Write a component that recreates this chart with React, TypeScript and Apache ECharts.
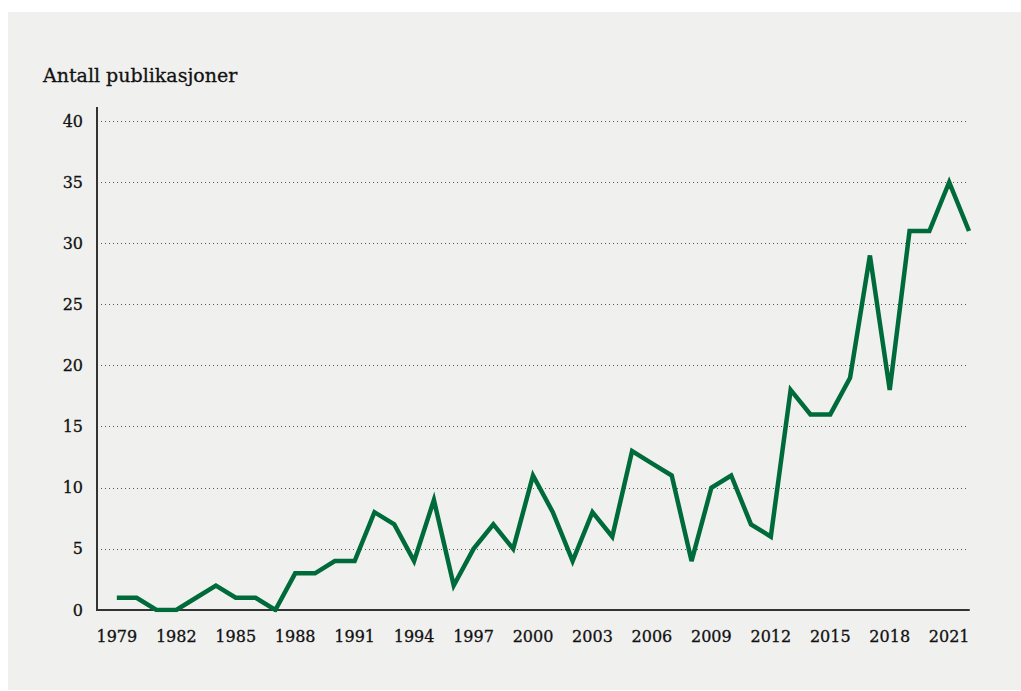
import React, { useEffect, useRef } from "react";
import * as echarts from "echarts";

const years: number[] = [];
for (let y = 1979; y <= 2022; y++) years.push(y);

const publications = [
  1, 1, 0, 0, 1, 2, 1, 1, 0, 3, 3, 4, 4, 8, 7, 4, 9, 2, 5, 7, 5, 11, 8, 4, 8, 6,
  13, 12, 11, 4, 10, 11, 7, 6, 18, 16, 16, 19, 29, 18, 31, 31, 35, 31,
];

const xLabelYears = [1979, 1982, 1985, 1988, 1991, 1994, 1997, 2000, 2003, 2006, 2009, 2012, 2015, 2018, 2021];
const yTicks = [0, 5, 10, 15, 20, 25, 30, 35, 40];

export default function App() {
  const ref = useRef<HTMLDivElement>(null);
  useEffect(() => {
    if (!ref.current) return;
    const chart = echarts.init(ref.current, null, { renderer: "svg" });
    const font = "'DejaVu Serif', 'Liberation Serif', serif";
    chart.setOption({
      animation: false,
      backgroundColor: "#ffffff",
      graphic: [
        {
          type: "rect",
          z: -10,
          shape: { x: 8, y: 12, width: 1013, height: 678 },
          style: { fill: "#f0f0ef" },
          silent: true,
        },
        {
          type: "text",
          x: 43,
          y: 75,
          style: {
            text: "Antall publikasjoner",
            font: `19px ${font}`,
            fill: "#111111",
            verticalAlign: "middle",
            stroke: "#111111",
            lineWidth: 0.3,
          },
        },
        {
          type: "line",
          shape: { x1: 97, y1: 107, x2: 97, y2: 611 },
          style: { stroke: "#333333", lineWidth: 2 },
          z: 5,
        },
      ],
      grid: { left: 97, right: 52, top: 121, bottom: 81, containLabel: false },
      xAxis: {
        type: "value",
        min: 1978,
        max: 2022,
        interval: 1,
        axisLine: { show: true, lineStyle: { color: "#333333", width: 2 } },
        axisTick: { show: false },
        axisLabel: {
          margin: 18,
          fontSize: 16,
          fontFamily: font,
          color: "#111111",
          textBorderColor: "#111111",
          textBorderWidth: 0.3,
          formatter: (v: number) => (xLabelYears.includes(v) ? String(v) : ""),
        },
        splitLine: { show: false },
      },
      yAxis: {
        type: "value",
        min: 0,
        max: 40,
        interval: 5,
        axisLine: { show: false },
        axisTick: { show: false },
        axisLabel: {
          margin: 14,
          fontSize: 16,
          fontFamily: font,
          color: "#111111",
          textBorderColor: "#111111",
          textBorderWidth: 0.3,
          formatter: (v: number) => (yTicks.includes(v) ? String(v) : ""),
        },
        splitLine: {
          show: true,
          lineStyle: { color: "#555555", width: 1, type: [1, 3] },
        },
      },
      series: [
        {
          type: "line",
          data: years.map((y, i) => [y, publications[i]]),
          symbol: "none",
          lineStyle: { color: "#006b3a", width: 4.5, join: "miter" },
          z: 3,
        },
      ],
    });
    return () => chart.dispose();
  }, []);
  return (
    <div
      ref={ref}
      style={{ position: "fixed", left: 0, top: 0, width: 1021, height: 691 }}
    />
  );
}
